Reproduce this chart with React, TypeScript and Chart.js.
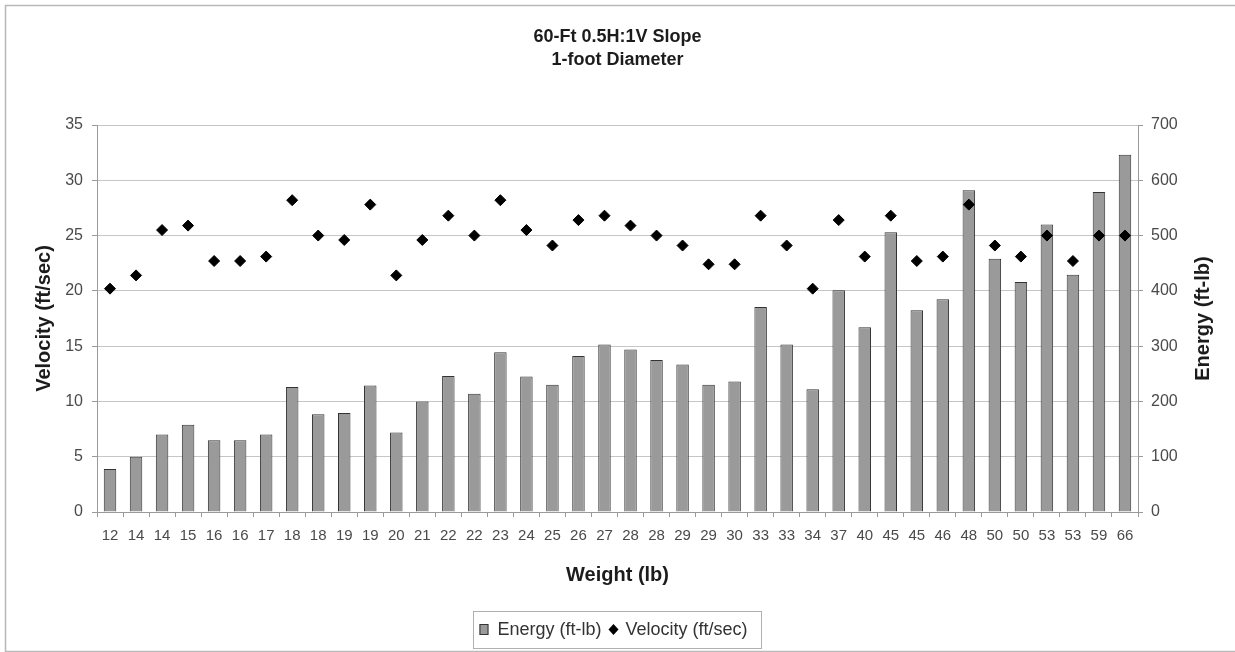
import React, { useEffect, useRef } from 'react';
import { Chart, registerables } from 'chart.js';

Chart.register(...registerables);

const W = 1235;
const H = 652;
const FONT = '"Liberation Sans", Arial, Helvetica, sans-serif';

const TITLE_LINES = ['60-Ft 0.5H:1V Slope', '1-foot Diameter'];
const X_TITLE = 'Weight (lb)';
const Y_TITLE = 'Velocity (ft/sec)';
const Y1_TITLE = 'Energy (ft-lb)';
const ENERGY_LABEL = 'Energy (ft-lb)';
const VELOCITY_LABEL = 'Velocity (ft/sec)';

const weights = [
  '12', '14', '14', '15', '16', '16', '17', '18', '18', '19',
  '19', '20', '21', '22', '22', '23', '24', '25', '26', '27',
  '28', '28', '29', '29', '30', '33', '33', '34', '37', '40',
  '45', '45', '46', '48', '50', '50', '53', '53', '59', '66',
];

const energy = [
  78, 100, 140, 158, 130, 130, 140, 226, 177, 179,
  229, 144, 200, 246, 214, 289, 245, 230, 282, 303,
  294, 275, 267, 230, 236, 371, 303, 222, 401, 334,
  506, 365, 385, 582, 458, 416, 520, 429, 579, 646,
];

const velocity = [
  20.2, 21.4, 25.5, 25.9, 22.7, 22.7, 23.1, 28.2, 25.0, 24.6,
  27.8, 21.4, 24.6, 26.8, 25.0, 28.2, 25.5, 24.1, 26.4, 26.8,
  25.9, 25.0, 24.1, 22.4, 22.4, 26.8, 24.1, 20.2, 26.4, 23.1,
  26.8, 22.7, 23.1, 27.8, 24.1, 23.1, 25.0, 22.7, 25.0, 25.0,
];

const velocityTicks = { min: 0, max: 35, step: 5 };
const energyTicks = { min: 0, max: 700, step: 100 };

const BAR_FILL = '#9a9a9a';
const BAR_EDGE = '#333333';
const TICK_COLOR = '#4a4a4a';
const AXIS_COLOR = '#9a9a9a';
const GRID_COLOR = '#c6c6c6';

export default function App() {
  const ref = useRef<HTMLCanvasElement>(null);

  useEffect(() => {
    const canvas = ref.current;
    if (!canvas) return;

    const decor = {
      id: 'decor',
      beforeDraw(chart: any) {
        const ctx = chart.ctx;
        ctx.save();
        ctx.fillStyle = '#ffffff';
        ctx.fillRect(0, 0, W, H);
        ctx.strokeStyle = '#b8b8b8';
        ctx.lineWidth = 1.5;
        ctx.strokeRect(5.5, 5.5, W + 20, H - 6);
        ctx.restore();
      },
      afterDraw(chart: any) {
        const ctx = chart.ctx;
        const ca = chart.chartArea;
        const cx = (ca.left + ca.right) / 2;
        const cy = (ca.top + ca.bottom) / 2;
        ctx.save();
        ctx.fillStyle = '#1c1c1c';
        ctx.textAlign = 'center';
        ctx.textBaseline = 'middle';
        ctx.font = `bold 18px ${FONT}`;
        TITLE_LINES.forEach((t, i) => ctx.fillText(t, cx, 37 + i * 23));

        ctx.font = `bold 20px ${FONT}`;
        ctx.fillText(X_TITLE, cx, 575);

        ctx.save();
        ctx.translate(44, cy);
        ctx.rotate(-Math.PI / 2);
        ctx.fillText(Y_TITLE, 0, 0);
        ctx.restore();

        ctx.save();
        ctx.translate(1203, cy);
        ctx.rotate(-Math.PI / 2);
        ctx.fillText(Y1_TITLE, 0, 0);
        ctx.restore();

        // legend
        ctx.font = `18px ${FONT}`;
        const w1 = ctx.measureText(ENERGY_LABEL).width;
        const w2 = ctx.measureText(VELOCITY_LABEL).width;
        const boxW = 6 + 9 + 9 + w1 + 7 + 10 + 7 + w2 + 14;
        const bx = cx - boxW / 2;
        const by = 611;
        const bh = 37;
        const ly = by + bh / 2;
        ctx.strokeStyle = '#b0b0b0';
        ctx.lineWidth = 1;
        ctx.strokeRect(Math.round(bx) + 0.5, by + 0.5, Math.round(boxW), bh);

        let x = bx + 6;
        ctx.fillStyle = BAR_FILL;
        ctx.fillRect(x, ly - 5.5, 9, 11);
        ctx.strokeStyle = BAR_EDGE;
        ctx.strokeRect(x + 0.5, ly - 5, 8, 10);
        x += 9 + 9;
        ctx.fillStyle = '#333333';
        ctx.textAlign = 'left';
        ctx.fillText(ENERGY_LABEL, x, ly + 1);
        x += w1 + 7;
        ctx.fillStyle = '#000';
        ctx.beginPath();
        ctx.moveTo(x, ly);
        ctx.lineTo(x + 5, ly - 5.5);
        ctx.lineTo(x + 10, ly);
        ctx.lineTo(x + 5, ly + 5.5);
        ctx.closePath();
        ctx.fill();
        x += 10 + 7;
        ctx.fillStyle = '#333333';
        ctx.fillText(VELOCITY_LABEL, x, ly + 1);
        ctx.restore();
      },
    };

    const chart = new Chart(canvas, {
      type: 'bar',
      data: {
        labels: weights,
        datasets: [
          {
            type: 'line',
            label: VELOCITY_LABEL,
            data: velocity,
            yAxisID: 'y',
            showLine: false,
            pointStyle: 'rectRot',
            pointRadius: 5.5,
            pointBorderWidth: 1,
            backgroundColor: '#000',
            borderColor: '#000',
            order: 1,
          } as any,
          {
            type: 'bar',
            label: ENERGY_LABEL,
            data: energy,
            yAxisID: 'y1',
            backgroundColor: BAR_FILL,
            borderColor: BAR_EDGE,
            borderWidth: 1,
            barPercentage: 0.48,
            categoryPercentage: 1,
            order: 2,
          },
        ],
      },
      options: {
        responsive: false,
        animation: false,
        devicePixelRatio: 1,
        layout: { padding: { top: 125, bottom: 0, left: 0, right: 0 } },
        plugins: {
          legend: { display: false },
          tooltip: { enabled: false },
          title: { display: false },
        },
        scales: {
          x: {
            offset: true,
            grid: {
              display: true,
              drawOnChartArea: false,
              drawTicks: true,
              tickLength: 5,
              color: AXIS_COLOR,
              tickColor: AXIS_COLOR,
              offset: true,
            },
            border: { color: AXIS_COLOR, width: 1 },
            ticks: {
              color: TICK_COLOR,
              font: { size: 15, family: FONT },
              padding: 10,
              autoSkip: false,
              maxRotation: 0,
              minRotation: 0,
            },
            afterFit: (s: any) => {
              s.height = 140;
            },
          },
          y: {
            position: 'left',
            min: velocityTicks.min,
            max: velocityTicks.max,
            ticks: {
              stepSize: velocityTicks.step,
              color: TICK_COLOR,
              font: { size: 16, family: FONT },
              padding: 9,
            },
            grid: { color: GRID_COLOR, tickColor: AXIS_COLOR, tickLength: 5, lineWidth: 1 },
            border: { color: AXIS_COLOR, width: 1 },
            afterFit: (s: any) => {
              s.width = 97;
            },
          },
          y1: {
            position: 'right',
            min: energyTicks.min,
            max: energyTicks.max,
            ticks: {
              stepSize: energyTicks.step,
              color: TICK_COLOR,
              font: { size: 16, family: FONT },
              padding: 8,
            },
            grid: { drawOnChartArea: false, color: AXIS_COLOR, tickColor: AXIS_COLOR, tickLength: 5 },
            border: { color: AXIS_COLOR, width: 1 },
            afterFit: (s: any) => {
              s.width = 97;
            },
          },
        },
      } as any,
      plugins: [decor],
    });

    return () => chart.destroy();
  }, []);

  return (
    <div style={{ position: 'absolute', left: 0, top: 0, width: W, height: H, background: '#fff' }}>
      <canvas ref={ref} width={W} height={H} style={{ display: 'block', width: W, height: H }} />
    </div>
  );
}
